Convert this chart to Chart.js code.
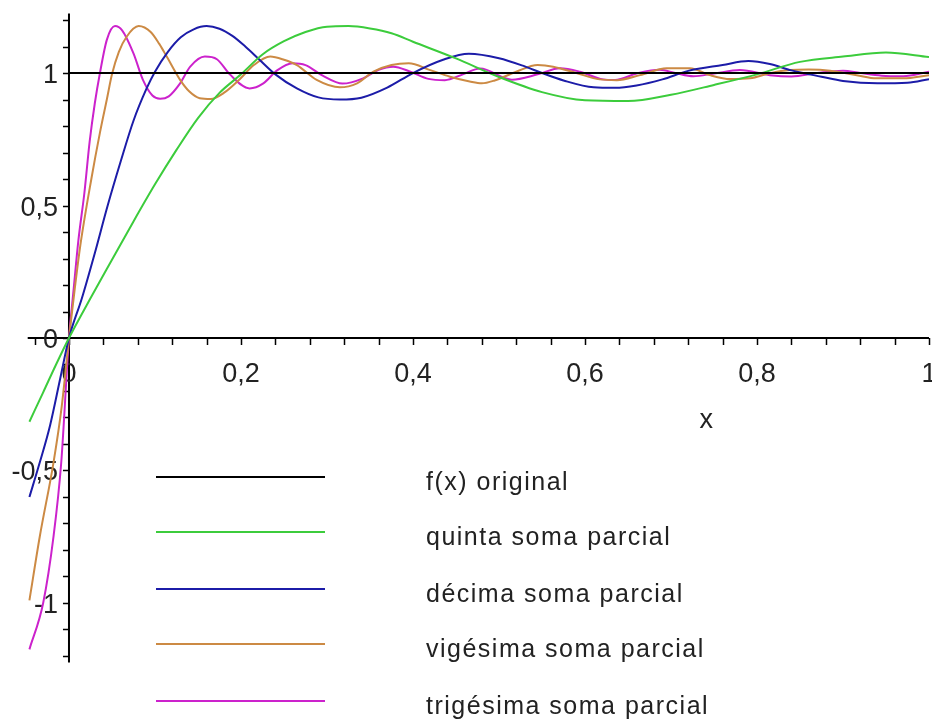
<!DOCTYPE html>
<html>
<head>
<meta charset="utf-8">
<script src="https://cdn.jsdelivr.net/npm/chart.js@4.4.0/dist/chart.umd.min.js"></script>
<style>
  html, body { margin: 0; padding: 0; background: #fff; }
  #wrap { width: 932px; height: 720px; position: relative; }
</style>
</head>
<body>
<div id="wrap"><canvas id="fourierChart"></canvas></div>
<script>
// f(x) original
const originalX = [0, 1];
const originalY = [1, 1];

// quinta soma parcial
const quintaX = [-0.046, -0.03, -0.015, 0, 0.025, 0.05, 0.075, 0.1, 0.125, 0.15, 0.175, 0.2, 0.225, 0.25, 0.275, 0.3, 0.325, 0.35, 0.375, 0.4, 0.45, 0.5, 0.55, 0.6, 0.65, 0.7, 0.75, 0.8, 0.85, 0.9, 0.95, 1.0];
const quintaY = [-0.316, -0.205, -0.1, 0, 0.15, 0.295, 0.44, 0.58, 0.71, 0.83, 0.925, 0.995, 1.07, 1.12, 1.155, 1.175, 1.177, 1.168, 1.15, 1.118, 1.055, 0.985, 0.928, 0.897, 0.894, 0.918, 0.955, 0.995, 1.042, 1.062, 1.077, 1.06];

// décima soma parcial
const decimaX = [-0.046, -0.034, -0.022, -0.01, 0, 0.015, 0.03, 0.045, 0.06, 0.075, 0.09, 0.1, 0.115, 0.13, 0.145, 0.16, 0.175, 0.19, 0.205, 0.22, 0.24, 0.265, 0.29, 0.315, 0.34, 0.37, 0.4, 0.435, 0.465, 0.5, 0.53, 0.55, 0.575, 0.61, 0.635, 0.66, 0.69, 0.72, 0.76, 0.79, 0.815, 0.84, 0.875, 0.9, 0.94, 0.975, 1.0];
const decimaY = [-0.6, -0.47, -0.33, -0.15, 0, 0.15, 0.32, 0.5, 0.665, 0.82, 0.94, 1.005, 1.08, 1.135, 1.165, 1.177, 1.167, 1.14, 1.1, 1.055, 0.995, 0.942, 0.908, 0.9, 0.907, 0.945, 1.0, 1.05, 1.073, 1.056, 1.025, 1.0, 0.972, 0.946, 0.944, 0.953, 0.976, 1.008, 1.03, 1.045, 1.034, 1.01, 0.986, 0.97, 0.961, 0.963, 0.977];

// vigésima soma parcial
const vigesimaX = [-0.046, -0.034, -0.018, -0.0085, 0, 0.0065, 0.013, 0.026, 0.036, 0.044, 0.05, 0.058, 0.067, 0.081, 0.095, 0.105, 0.114, 0.129, 0.14, 0.152, 0.165, 0.18, 0.198, 0.215, 0.234, 0.25, 0.265, 0.288, 0.315, 0.335, 0.354, 0.375, 0.395, 0.42, 0.443, 0.466, 0.48, 0.495, 0.52, 0.545, 0.563, 0.59, 0.617, 0.637, 0.664, 0.695, 0.722, 0.745, 0.769, 0.792, 0.815, 0.838, 0.86, 0.885, 0.916, 0.939, 0.97, 1.0];
const vigesimaY = [-0.99, -0.75, -0.47, -0.26, 0, 0.18, 0.345, 0.6, 0.775, 0.9, 0.995, 1.08, 1.137, 1.177, 1.155, 1.11, 1.06, 0.975, 0.93, 0.905, 0.902, 0.925, 0.975, 1.03, 1.062, 1.05, 1.03, 0.974, 0.946, 0.961, 1.005, 1.03, 1.037, 1.011, 0.986, 0.968, 0.961, 0.972, 1.005, 1.03, 1.024, 1.0, 0.976, 0.973, 0.992, 1.018, 1.018, 0.992, 0.977, 0.98, 0.999, 1.011, 1.013, 1.009, 0.992, 0.98, 0.98, 0.992];

// trigésima soma parcial
const trigesimaX = [-0.046, -0.03, -0.018, -0.009, 0, 0.005, 0.011, 0.018, 0.024, 0.03, 0.036, 0.044, 0.0535, 0.062, 0.075, 0.086, 0.097, 0.106, 0.116, 0.129, 0.141, 0.158, 0.172, 0.187, 0.21, 0.226, 0.242, 0.26, 0.275, 0.295, 0.318, 0.342, 0.36, 0.377, 0.397, 0.418, 0.437, 0.458, 0.478, 0.515, 0.545, 0.571, 0.594, 0.621, 0.635, 0.66, 0.687, 0.705, 0.726, 0.75, 0.78, 0.815, 0.84, 0.87, 0.9, 0.92, 0.945, 0.97, 1.0];
const trigesimaY = [-1.175, -1.0, -0.75, -0.47, 0, 0.17, 0.37, 0.55, 0.74, 0.885, 1.0, 1.125, 1.177, 1.16, 1.074, 0.974, 0.915, 0.903, 0.912, 0.96, 1.024, 1.062, 1.052, 0.995, 0.942, 0.961, 1.01, 1.037, 1.03, 0.99, 0.96, 0.98, 1.012, 1.024, 1.005, 0.978, 0.973, 0.995, 1.017, 0.975, 0.995, 1.018, 1.005, 0.976, 0.974, 0.998, 1.012, 1.0, 0.988, 0.998, 1.011, 0.992, 0.987, 1.0, 1.009, 1.0, 0.99, 0.988, 1.005];

const seriesNames = ['f(x) original', 'quinta soma parcial', 'décima soma parcial', 'vigésima soma parcial', 'trigésima soma parcial'];
const seriesColors = ['#000000', '#3ccc3c', '#1c1ca8', '#cc8a44', '#cc22cc'];

const xTickValues = [0, 0.2, 0.4, 0.6, 0.8, 1];
const xTickLabels = ['0', '0,2', '0,4', '0,6', '0,8', '1'];
const yTickValues = [-1, -0.5, 0, 0.5, 1];
const yTickLabels = ['-1', '-0,5', '0', '0,5', '1'];
const axisTitle = 'x';

function toPoints(xs, ys) {
  return xs.map((v, i) => ({ x: v, y: ys[i] }));
}

const allX = [originalX, quintaX, decimaX, vigesimaX, trigesimaX];
const allY = [originalY, quintaY, decimaY, vigesimaY, trigesimaY];

const datasets = seriesNames.map((name, i) => ({
  label: name,
  data: toPoints(allX[i], allY[i]),
  borderColor: seriesColors[i],
  borderWidth: 2,
  pointRadius: 0,
  fill: false,
  cubicInterpolationMode: 'monotone'
}));

// axes through the origin, Maple style
const mapleAxes = {
  id: 'mapleAxes',
  beforeDatasetsDraw(chart) {
    const ctx = chart.ctx;
    const xs = chart.scales.x, ys = chart.scales.y;
    const x0 = xs.getPixelForValue(0);
    const y0 = ys.getPixelForValue(0);
    ctx.save();
    ctx.strokeStyle = '#000';
    ctx.lineWidth = 2;
    ctx.beginPath();
    ctx.moveTo(xs.left, y0); ctx.lineTo(xs.right, y0);
    ctx.moveTo(x0, ys.top); ctx.lineTo(x0, ys.bottom);
    ctx.stroke();

    ctx.lineWidth = 1.5;
    ctx.beginPath();
    for (let i = -1; i <= 25; i++) {
      const px = Math.round(xs.getPixelForValue(i * 0.04)) + 0.5;
      ctx.moveTo(px, y0); ctx.lineTo(px, y0 + 7);
    }
    for (let i = -12; i <= 12; i++) {
      const py = Math.round(ys.getPixelForValue(i * 0.1)) + 0.5;
      ctx.moveTo(x0 - 6, py); ctx.lineTo(x0, py);
    }
    ctx.stroke();

    ctx.fillStyle = '#222';
    ctx.font = "27px 'Liberation Sans', Arial, sans-serif";
    ctx.textBaseline = 'alphabetic';
    ctx.textAlign = 'center';
    xTickValues.forEach((v, i) => {
      ctx.fillText(xTickLabels[i], xs.getPixelForValue(v), y0 + 44);
    });
    ctx.textAlign = 'right';
    yTickValues.forEach((v, i) => {
      ctx.fillText(yTickLabels[i], x0 - 11, ys.getPixelForValue(v) + 10);
    });
    ctx.textAlign = 'center';
    ctx.fillText(axisTitle, xs.getPixelForValue(0.741), y0 + 90);
    ctx.restore();
  },
  afterDatasetsDraw(chart) {
    // legend block under the curves
    const ctx = chart.ctx;
    const rows = [477, 532, 589, 644, 701];
    ctx.save();
    ctx.lineWidth = 2;
    ctx.font = "25px 'Liberation Sans', Arial, sans-serif";
    ctx.letterSpacing = '1.5px';
    ctx.textAlign = 'left';
    ctx.textBaseline = 'alphabetic';
    seriesNames.forEach((name, i) => {
      ctx.strokeStyle = seriesColors[i];
      ctx.beginPath();
      ctx.moveTo(156, rows[i]); ctx.lineTo(325, rows[i]);
      ctx.stroke();
      ctx.fillStyle = '#222';
      ctx.fillText(name, 426, rows[i] + 13);
    });
    ctx.restore();
  }
};

new Chart(document.getElementById('fourierChart'), {
  type: 'line',
  data: { datasets: datasets },
  options: {
    responsive: true,
    maintainAspectRatio: false,
    animation: false,
    layout: { padding: { left: 27.7, right: 3, top: 13.4, bottom: 57.4 } },
    plugins: { legend: { display: false }, tooltip: { enabled: false } },
    scales: {
      x: { type: 'linear', min: -0.048, max: 1.0, display: false },
      y: { type: 'linear', min: -1.225, max: 1.225, display: false }
    }
  },
  plugins: [mapleAxes]
});
</script>
</body>
</html>
